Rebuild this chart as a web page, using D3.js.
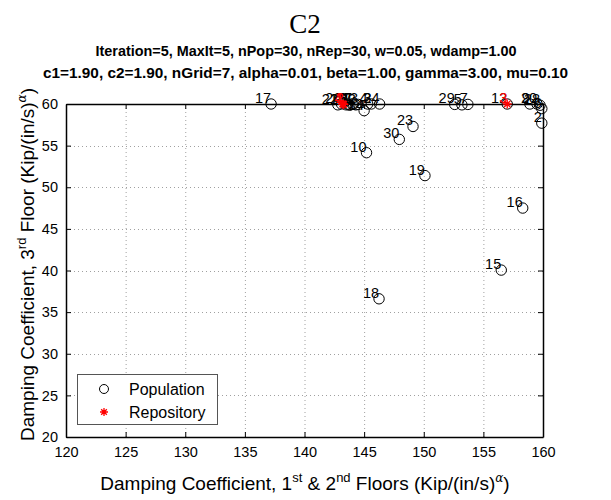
<!DOCTYPE html>
<html>
<head>
<meta charset="utf-8">
<script src="https://cdn.jsdelivr.net/npm/d3@7"></script>
<style>
  body { margin: 0; background: #fff; }
  text { font-family: "Liberation Sans", Arial, sans-serif; }
</style>
</head>
<body>
<svg id="chart" width="611" height="500"></svg>
<script>
// Population members: index label, x = damping 1st & 2nd floors, y = damping 3rd floor
const popLabels = [1, 2, 3, 4, 5, 6, 7, 8, 9, 10, 11, 12, 13, 14, 15,
                   16, 17, 18, 19, 20, 21, 22, 23, 24, 25, 26, 27, 28, 29, 30];
const popX = [143.8, 159.9, 145.6, 145.3, 153.2, 159.9, 153.7, 143.6, 158.9, 145.2,
              144.1, 157.0, 144.5, 145.0, 156.5, 158.3, 137.2, 146.25, 150.1, 159.5,
              142.8, 144.3, 149.1, 146.3, 143.5, 143.1, 144.0, 159.75, 152.6, 147.95];
const popY = [59.85, 57.7, 60.0, 60.0, 59.9, 59.45, 59.95, 60.0, 60.0, 54.15,
              60.0, 60.0, 59.95, 59.2, 40.05, 47.5, 60.0, 36.6, 51.4, 60.0,
              59.9, 59.9, 57.3, 60.0, 59.9, 60.0, 60.0, 59.85, 59.95, 55.75];

// Repository members (non-dominated set)
const repLabels = [1, 2, 3, 4];
const repX = [143.25, 143.3, 157.0, 143.2];
const repY = [60.0, 59.95, 60.0, 60.0];

const xTicks = [120, 125, 130, 135, 140, 145, 150, 155, 160];
const yTicks = [20, 25, 30, 35, 40, 45, 50, 55, 60];

const titleText = "C2";
const subLine1 = "Iteration=5, MaxIt=5, nPop=30, nRep=30, w=0.05, wdamp=1.00";
const subLine2 = "c1=1.90, c2=1.90, nGrid=7, alpha=0.01, beta=1.00, gamma=3.00, mu=0.10";

const svg = d3.select("#chart");
const m = { left: 66, right: 543, top: 104, bottom: 437 };

const x = d3.scaleLinear().domain([120, 160]).range([m.left, m.right]);
const y = d3.scaleLinear().domain([20, 60]).range([m.bottom, m.top]);

// Titles
svg.append("text").attr("x", 305).attr("y", 33).attr("text-anchor", "middle")
  .style("font-family", "'Liberation Serif', 'Times New Roman', serif")
  .style("font-size", "27px").text(titleText);
svg.append("text").attr("x", 306).attr("y", 56).attr("text-anchor", "middle")
  .attr("textLength", 421).attr("lengthAdjust", "spacingAndGlyphs")
  .style("font-size", "15px").style("font-weight", "bold").text(subLine1);
svg.append("text").attr("x", 305.5).attr("y", 78).attr("text-anchor", "middle")
  .attr("textLength", 525).attr("lengthAdjust", "spacingAndGlyphs")
  .style("font-size", "15px").style("font-weight", "bold").text(subLine2);

// Dotted grid
const grid = svg.append("g").attr("stroke", "#a0a0a0").attr("stroke-width", 1)
  .attr("stroke-dasharray", "1,3");
grid.selectAll("line.gx").data(xTicks.slice(1, -1)).join("line")
  .attr("x1", d => x(d) + 0.5).attr("x2", d => x(d) + 0.5)
  .attr("y1", m.top).attr("y2", m.bottom);
grid.selectAll("line.gy").data(yTicks.slice(1, -1)).join("line")
  .attr("y1", d => Math.round(y(d)) + 0.5).attr("y2", d => Math.round(y(d)) + 0.5)
  .attr("x1", m.left).attr("x2", m.right);

// Axes with inward ticks on all four sides
const tickLen = 5;
const gB = svg.append("g").attr("transform", `translate(0,${m.bottom})`)
  .call(d3.axisBottom(x).tickValues(xTicks).tickSizeInner(-tickLen).tickSizeOuter(0).tickPadding(10));
const gL = svg.append("g").attr("transform", `translate(${m.left},0)`)
  .call(d3.axisLeft(y).tickValues(yTicks).tickSizeInner(-tickLen).tickSizeOuter(0).tickPadding(8));
const gT = svg.append("g").attr("transform", `translate(0,${m.top})`)
  .call(d3.axisTop(x).tickValues(xTicks).tickSizeInner(-tickLen).tickSizeOuter(0).tickFormat(""));
const gR = svg.append("g").attr("transform", `translate(${m.right},0)`)
  .call(d3.axisRight(y).tickValues(yTicks).tickSizeInner(-tickLen).tickSizeOuter(0).tickFormat(""));
[gB, gL, gT, gR].forEach(g => {
  g.selectAll("path.domain").attr("stroke", "#000").attr("stroke-width", 1.5);
  g.selectAll(".tick line").attr("stroke", "#000");
  g.selectAll(".tick text").style("font-size", "14.5px").attr("fill", "#000")
    .style("font-family", "'Liberation Sans', Arial, sans-serif");
});

// Population: open circles with index labels
const pop = popLabels.map((l, i) => ({ l, x: popX[i], y: popY[i] }));
const rep = repLabels.map((l, i) => ({ l, x: repX[i], y: repY[i] }));

svg.append("g").selectAll("circle").data(pop).join("circle")
  .attr("cx", d => x(d.x)).attr("cy", d => y(d.y)).attr("r", 5.2)
  .attr("fill", "none").attr("stroke", "#000").attr("stroke-width", 1);

svg.append("g").selectAll("text").data(pop).join("text")
  .attr("x", d => x(d.x)).attr("y", d => y(d.y) - 1)
  .attr("text-anchor", "end").style("font-size", "14.5px").attr("fill", "#000")
  .text(d => d.l);

// Repository: red asterisks with index labels
function asterisk(s) {
  const d = s * 0.7071;
  return `M${-s},0L${s},0M0,${-s}L0,${s}M${-d},${-d}L${d},${d}M${-d},${d}L${d},${-d}`;
}
svg.append("g").selectAll("path").data(rep).join("path")
  .attr("transform", d => `translate(${x(d.x)},${y(d.y)})`)
  .attr("d", asterisk(4.5)).attr("stroke", "#ff0000").attr("stroke-width", 1.3).attr("fill", "none");

svg.append("g").selectAll("text").data(rep).join("text")
  .attr("x", d => x(d.x)).attr("y", d => y(d.y) - 1)
  .attr("text-anchor", "end").style("font-size", "14.5px").attr("fill", "#ff0000")
  .text(d => d.l);

// Axis labels
const xl = svg.append("text").attr("x", 305).attr("y", 490).attr("text-anchor", "middle")
  .style("font-size", "19px").attr("fill", "#000");
xl.append("tspan").text("Damping Coefficient, 1");
xl.append("tspan").attr("dy", -8).style("font-size", "13px").text("st");
xl.append("tspan").attr("dy", 8).text(" & 2");
xl.append("tspan").attr("dy", -8).style("font-size", "13px").text("nd");
xl.append("tspan").attr("dy", 8).text(" Floors (Kip/(in/s)");
xl.append("tspan").attr("dy", -8).style("font-size", "12px")
  .style("font-family", "'DejaVu Serif', serif").style("font-style", "italic").text("α");
xl.append("tspan").attr("dy", 8).text(")");

const yl = svg.append("text").attr("transform", `translate(34,${(m.top + m.bottom) / 2 - 6}) rotate(-90)`)
  .attr("text-anchor", "middle").style("font-size", "19px").attr("fill", "#000");
yl.append("tspan").text("Damping Coefficient, 3");
yl.append("tspan").attr("dy", -8).style("font-size", "13px").text("rd");
yl.append("tspan").attr("dy", 8).text(" Floor (Kip/(in/s)");
yl.append("tspan").attr("dy", -8).style("font-size", "12px")
  .style("font-family", "'DejaVu Serif', serif").style("font-style", "italic").text("α");
yl.append("tspan").attr("dy", 8).text(")");

// Legend
const lg = svg.append("g");
lg.append("rect").attr("x", 77.5).attr("y", 374.5).attr("width", 140).attr("height", 50)
  .attr("fill", "#fff").attr("stroke", "#555").attr("stroke-width", 1);
lg.append("circle").attr("cx", 104).attr("cy", 389).attr("r", 4.5)
  .attr("fill", "none").attr("stroke", "#000");
lg.append("path").attr("transform", "translate(104,412)").attr("d", asterisk(4))
  .attr("stroke", "#ff0000").attr("stroke-width", 1.3);
lg.append("text").attr("x", 129).attr("y", 395).style("font-size", "16px").text("Population");
lg.append("text").attr("x", 129).attr("y", 418).style("font-size", "16px").text("Repository");
</script>
</body>
</html>
